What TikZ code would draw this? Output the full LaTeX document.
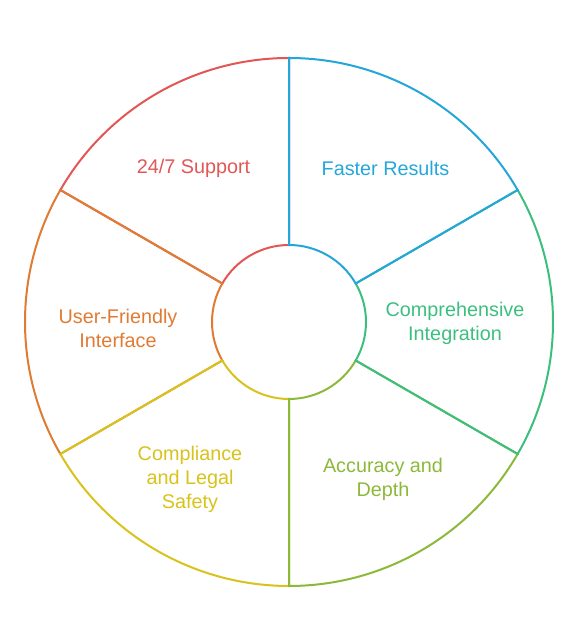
\documentclass[tikz,border=0pt]{standalone}
\usepackage{fontspec}
\setmainfont{Liberation Sans}
\definecolor{cred}{HTML}{E35656}
\definecolor{corange}{HTML}{E07B33}
\definecolor{cyellow}{HTML}{D8C21C}
\definecolor{colive}{HTML}{8CB93A}
\definecolor{cgreen}{HTML}{3CBF7E}
\definecolor{cblue}{HTML}{24A6DA}
\tikzset{
  seg/.style={line width=2pt, line join=miter},
  lbl/.style={font=\fontsize{19.8}{24}\selectfont, align=center, inner sep=0pt},
}
\begin{document}
\begin{tikzpicture}[x=1pt,y=1pt]
\useasboundingbox (0,0) rectangle (579,636);
\coordinate (c) at (289,314);
\def\Ro{264}
\def\Ri{77}
\foreach \a/\b/\col in {150/90/cred, 210/150/corange, 270/210/cyellow, 330/270/colive, 390/330/cgreen, 450/390/cblue}{
  \draw[seg, \col] ([shift={(\a:\Ro)}]c) arc[start angle=\a, end angle=\b, radius=\Ro]
    -- ([shift={(\b:\Ri)}]c) arc[start angle=\b, end angle=\a, radius=\Ri] -- cycle;
}
\node[lbl, cred] (t1) at (193.5,468) {24/7 Support};
\node[lbl, cblue] (t2) at (385.5,468) {Faster Results};
\node[lbl, cgreen] (t3) at (455,313) {Comprehensive\\Integration};
\node[lbl, colive] (t4) at (383,157) {Accuracy and\\Depth};
\node[lbl, cyellow] (t5) at (190,157) {Compliance\\and Legal\\Safety};
\node[lbl, corange] (t6) at (118,308) {User-Friendly\\Interface};
\end{tikzpicture}
\end{document}
